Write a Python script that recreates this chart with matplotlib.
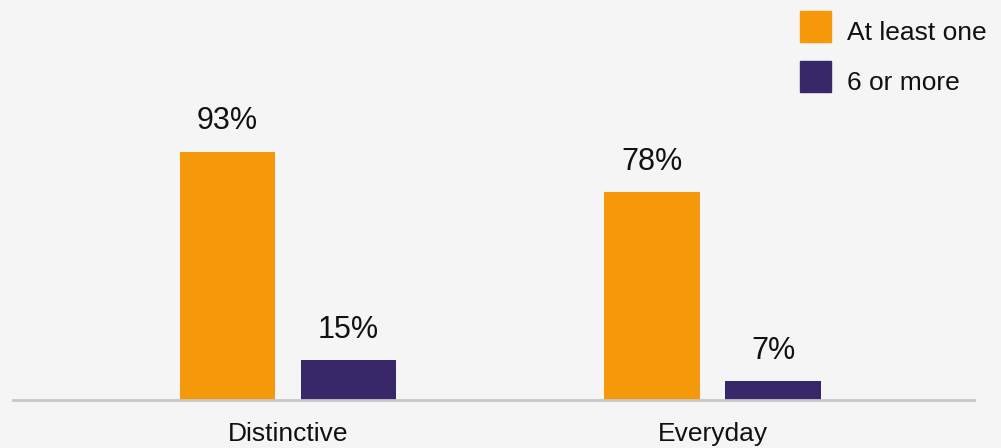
import numpy as np
import matplotlib.pyplot as plt

# dados
categorias = ["Distinctive", "Everyday"]
series = ["At least one", "6 or more"]
pelo_menos_um = [93, 78]
seis_ou_mais = [15, 7]
cores = ["#F5980A", "#38286A"]

plt.rcParams['font.family'] = ['Liberation Sans', 'DejaVu Sans']

fig = plt.figure(figsize=(10.01, 4.48), dpi=100)
fig.patch.set_facecolor("#F5F5F5")
ax = fig.add_axes([13/1001, 48/448, (974-13)/1001, 267/448])
ax.set_facecolor("#F5F5F5")

x = np.arange(len(categorias))
largura = 0.224
desloc = 0.1425

for valores, cor, dx in [(pelo_menos_um, cores[0], -desloc), (seis_ou_mais, cores[1], desloc)]:
    barras = ax.bar(x + dx, valores, width=largura, color=cor, zorder=2)
    for b, v in zip(barras, valores):
        ax.annotate(f"{v}%", (b.get_x() + b.get_width()/2, v), xytext=(0, 16),
                    textcoords="offset points", ha="center", va="baseline",
                    fontsize=22, color="#111111", annotation_clip=False)

ax.set_xlim(-0.648, 1.616)
ax.set_ylim(0, 100)
for s in ["top", "right", "left"]:
    ax.spines[s].set_visible(False)
ax.spines["bottom"].set_color("#C8C8C8")
ax.spines["bottom"].set_linewidth(2)
ax.set_yticks([])
ax.set_xticks(x)
ax.set_xticklabels(categorias, fontsize=19, color="#111111")
ax.tick_params(axis="x", length=0, pad=16)

# legenda manual
for i, (nome, cor) in enumerate(zip(series, cores)):
    topo = 11 + 50 * i
    fig.patches.append(plt.Rectangle((800/1001, 1 - (topo + 31)/448), 31/1001, 31/448,
                                     transform=fig.transFigure, color=cor, figure=fig))
    fig.text(847/1001, 1 - (topo + 29)/448, nome, fontsize=19, va="baseline", ha="left",
             color="#111111")

fig.savefig("out.png", dpi=100, facecolor=fig.get_facecolor())
